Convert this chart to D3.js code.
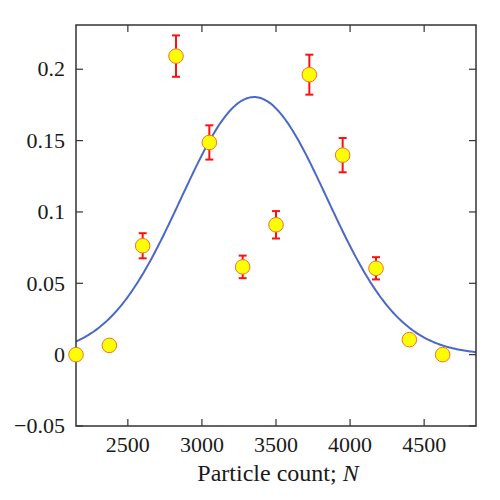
<!DOCTYPE html>
<html><head><meta charset="utf-8">
<script src="https://cdn.jsdelivr.net/npm/d3@7"></script>
<style>body{margin:0;background:#fff} svg text{font-family:"Liberation Serif","Times New Roman",serif;font-size:22px;fill:#1a1a1a}</style>
</head><body><svg id="c" width="500" height="500"></svg>
<script>
const particleCount = [2150, 2375, 2600, 2825, 3050, 3275, 3500, 3725, 3950, 4175, 4400, 4625];
const fraction      = [0.0, 0.0065, 0.0763, 0.2092, 0.1487, 0.0615, 0.0910, 0.1962, 0.1398, 0.0605, 0.0105, 0.0];
const errorSize     = [0, 0, 0.0088, 0.0145, 0.0120, 0.0079, 0.0096, 0.0140, 0.0120, 0.0078, 0, 0];
const xTicks = [2500, 3000, 3500, 4000, 4500];
const yTicks = [-0.05, 0, 0.05, 0.1, 0.15, 0.2];
const fitAmplitude = 0.1805, fitMean = 3352, fitSigma = 493;

const svg = d3.select("#c");
const L = 76, R = 476, T = 25, B = 426;
const x = d3.scaleLinear().domain([2150, 4850]).range([L, R]);
const y = d3.scaleLinear().domain([-0.05, 0.231]).range([B, T]);
const axisColor = "#333";

// ticks
const tk = 7;
const g = svg.append("g");
xTicks.forEach(v => {
  g.append("line").attr("x1", x(v)).attr("x2", x(v)).attr("y1", B).attr("y2", B - tk).attr("stroke", axisColor).attr("stroke-width", 1.2);
  g.append("line").attr("x1", x(v)).attr("x2", x(v)).attr("y1", T).attr("y2", T + tk).attr("stroke", axisColor).attr("stroke-width", 1.2);
  g.append("text").attr("x", x(v)).attr("y", 452).attr("text-anchor", "middle").text(v);
});
const yFmt = v => (v < 0 ? "\u2212" + Math.abs(v) : String(v));
yTicks.forEach(v => {
  g.append("line").attr("x1", L).attr("x2", L + tk).attr("y1", y(v)).attr("y2", y(v)).attr("stroke", axisColor).attr("stroke-width", 1.2);
  g.append("line").attr("x1", R).attr("x2", R - tk).attr("y1", y(v)).attr("y2", y(v)).attr("stroke", axisColor).attr("stroke-width", 1.2);
  g.append("text").attr("x", 65).attr("y", y(v)).attr("dy", "0.33em").attr("text-anchor", "end").text(yFmt(v));
});

// fit curve
svg.append("clipPath").attr("id", "clip").append("rect").attr("x", L).attr("y", T).attr("width", R - L).attr("height", B - T);
const xs = d3.range(2150, 4851, 10);
const line = d3.line().x(d => x(d)).y(d => y(fitAmplitude * Math.exp(-((d - fitMean) ** 2) / (2 * fitSigma ** 2))));
svg.append("path").datum(xs).attr("d", line).attr("fill", "none").attr("stroke", "#4a68c8")
  .attr("stroke-width", 2).attr("clip-path", "url(#clip)");

// frame
svg.append("rect").attr("x", L).attr("y", T).attr("width", R - L).attr("height", B - T)
  .attr("fill", "none").attr("stroke", axisColor).attr("stroke-width", 1.5);

// error bars
const data = particleCount.map((n, i) => ({n, v: fraction[i], e: errorSize[i]}));
const eb = svg.append("g").attr("stroke", "#ff1010").attr("stroke-width", 2);
data.filter(d => d.e > 0).forEach(d => {
  const cx = x(d.n);
  eb.append("line").attr("x1", cx).attr("x2", cx).attr("y1", y(d.v - d.e)).attr("y2", y(d.v + d.e));
  eb.append("line").attr("x1", cx - 4).attr("x2", cx + 4).attr("y1", y(d.v - d.e)).attr("y2", y(d.v - d.e));
  eb.append("line").attr("x1", cx - 4).attr("x2", cx + 4).attr("y1", y(d.v + d.e)).attr("y2", y(d.v + d.e));
});

// points
svg.append("g").selectAll("circle").data(data).join("circle")
  .attr("cx", d => x(d.n)).attr("cy", d => y(d.v)).attr("r", 7.3)
  .attr("fill", "#ffff00").attr("stroke", "#f07030").attr("stroke-width", 1);

// axis label
const lab = svg.append("text").attr("x", 278).attr("y", 481).attr("text-anchor", "middle").style("font-size", "24px");
lab.append("tspan").text("Particle count; ");
lab.append("tspan").style("font-style", "italic").text("N");
</script></body></html>
